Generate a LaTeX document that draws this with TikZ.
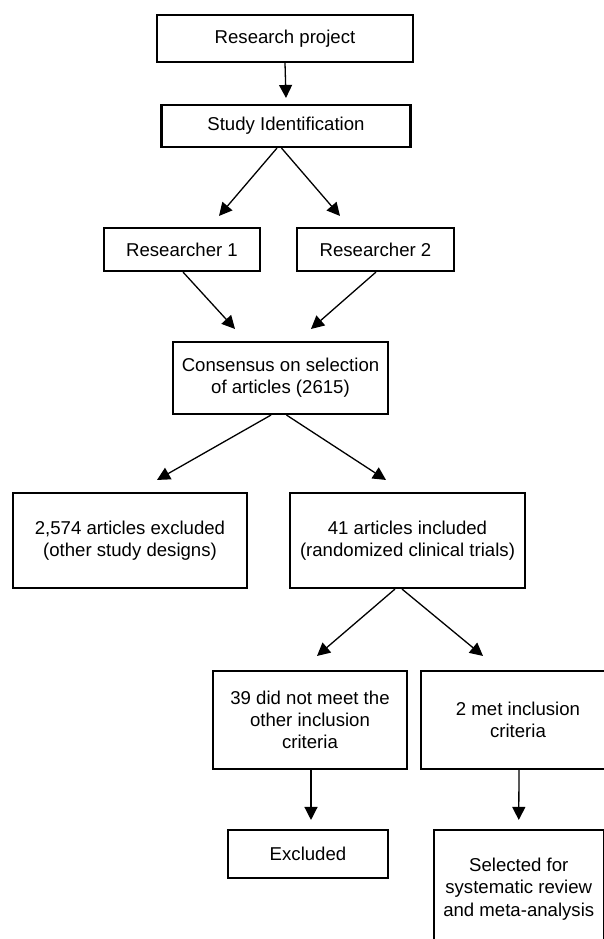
\documentclass[tikz,border=0pt]{standalone}
\usepackage{fontspec}
\setmainfont{Liberation Sans}
\usetikzlibrary{arrows.meta, calc}

\begin{document}
\begin{tikzpicture}[
 x=1pt, y=-1pt,
 block/.style = { 
    rectangle,
    draw=black,
    line width=2.1pt,
    inner sep=0pt,
    align=center,
    font=\fontsize{18.6}{22.3}\selectfont},
 link/.style = {->, line width=1.3pt, black},
 >={Triangle[length=13pt,width=13pt]}
  ]
\useasboundingbox (0,0) rectangle (603,939);
\node(proj)[block,minimum width=256pt,minimum height=47pt] at (285,38.5){Research project};
\node(ident)[block,minimum width=249pt,minimum height=42pt,below of=proj,node distance=87.5pt,xshift=1pt]{Study Identification};
\node(res1)[block,minimum width=156pt,minimum height=43pt,below of=ident,node distance=123.5pt,xshift=-104pt]{Researcher 1};
\node(res2)[block,minimum width=157pt,minimum height=43pt,below of=ident,node distance=123.5pt,xshift=89.5pt]{Researcher 2};
\node(cons)[block,minimum width=215pt,minimum height=72pt,below of=ident,node distance=252pt,xshift=-5.5pt]{Consensus on selection\\of articles (2615)};
\node(excl)[block,minimum width=234pt,minimum height=95pt,below of=cons,node distance=162.5pt,xshift=-150.5pt]{2,574 articles excluded\\(other study designs)};
\node(incl)[block,minimum width=235pt,minimum height=95pt,below of=cons,node distance=162.5pt,xshift=127pt]{41 articles included\\(randomized clinical trials)};
\node(notmet)[block,minimum width=194pt,minimum height=98pt,below of=incl,node distance=179.5pt,xshift=-97.5pt]{39 did not meet the\\other inclusion\\criteria};
\node(met)[block,minimum width=194pt,minimum height=98pt,below of=incl,node distance=179.5pt,xshift=110.5pt]{2 met inclusion\\criteria};
\node(out)[block,minimum width=160pt,minimum height=48pt,below of=notmet,node distance=134pt,xshift=-2pt]{Excluded};
\node(sel)[block,minimum width=170pt,minimum height=118pt,below of=met,node distance=169pt,xshift=0.75pt]{Selected for\\systematic review\\and meta-analysis};

\draw[link] (proj.south) -- ($(ident.north)+(0,-6)$);
\draw[link] ($(ident.south)+(-9,0)$) -- ($(res1.north)+(37,-11)$);
\draw[link] ($(ident.south)+(-4.5,0)$) -- ($(res2.north)+(-35.5,-11)$);
\draw[link] ($(res1.south)+(1,0)$) -- ($(cons.north)+(-45.5,-12)$);
\draw[link] ($(res2.south)+(0.5,0)$) -- ($(cons.north)+(30.5,-12)$);
\draw[link] ($(cons.south)+(-9.5,0)$) -- ($(excl.north)+(27,-12)$);
\draw[link] ($(cons.south)+(6,0)$) -- ($(incl.north)+(-21.5,-12)$);
\draw[link] ($(incl.south)+(-12.5,0)$) -- ($(notmet.north)+(7,-14)$);
\draw[link] ($(incl.south)+(-5.5,0)$) -- ($(met.north)+(-35,-14)$);
\draw[link] ($(notmet.south)+(1,0)$) -- ($(out.north)+(3,-9)$);
\draw[link] ($(met.south)+(1,0)$) -- ($(sel.north)+(0,-9)$);

\end{tikzpicture}
\end{document}
